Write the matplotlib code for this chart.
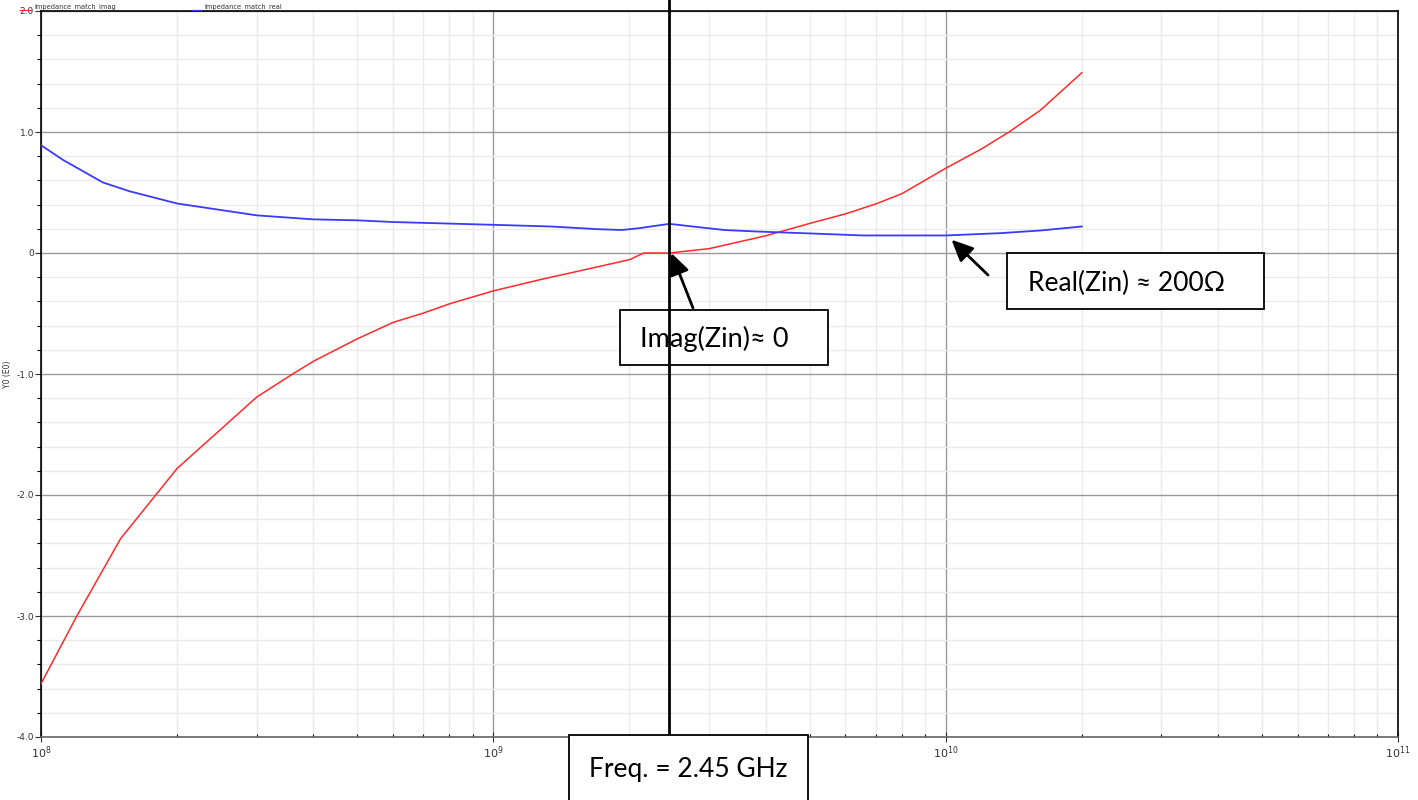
import numpy as np
import matplotlib
matplotlib.use("Agg")
import matplotlib.pyplot as plt
from matplotlib.patches import Rectangle
from matplotlib.lines import Line2D
from matplotlib.ticker import FixedLocator, LogLocator, NullFormatter

# imaginary part of Zin (red)
freq_imag = [1e8, 1.2e8, 1.5e8, 2e8, 3e8, 3.6e8, 4e8, 5e8, 6e8, 7e8, 8e8, 1e9,
             1.29e9, 1.5e9, 2e9, 2.15e9, 2.45e9, 3e9, 4e9, 5e9, 6e9, 7e9, 8e9,
             1e10, 1.2e10, 1.38e10, 1.62e10, 2e10]
imag_zin = [-3.56, -3.0, -2.36, -1.78, -1.19, -1.0, -0.895, -0.71, -0.574, -0.497,
            -0.42, -0.313, -0.214, -0.16, -0.055, 0.0, 0.0, 0.036, 0.142, 0.244,
            0.323, 0.405, 0.49, 0.70, 0.86, 1.0, 1.18, 1.49]

# real part of Zin (blue)
freq_real = [1e8, 1.12e8, 1.37e8, 1.57e8, 2e8, 3e8, 4e8, 5e8, 6e8, 8e8, 1e9,
             1.34e9, 1.7e9, 1.92e9, 2.1e9, 2.45e9, 2.76e9, 3.24e9, 3.8e9, 5.25e9,
             6.56e9, 1e10, 1.32e10, 1.62e10, 2e10]
real_zin = [0.891, 0.768, 0.583, 0.51, 0.409, 0.311, 0.278, 0.27, 0.256, 0.243,
            0.233, 0.219, 0.197, 0.19, 0.205, 0.241, 0.219, 0.19, 0.178, 0.159,
            0.145, 0.145, 0.164, 0.186, 0.219]

f_marker = 2.45e9
y_ticks = [-4.0, -3.0, -2.0, -1.0, 0.0, 1.0, 2.0]
y_ticklabels = ["-4.0", "-3.0", "-2.0", "-1.0", "0", "1.0", "2.0"]

W, H = 1418, 800
fig = plt.figure(figsize=(W / 100, H / 100), dpi=100)
ax = fig.add_axes([41 / W, 1 - 737 / H, (1398 - 41) / W, (737 - 11) / H])


def fx(x):
    return x / W


def fy(y):
    return 1 - y / H


ax.set_xscale("log")
ax.set_xlim(1e8, 1e11)
ax.set_ylim(-4, 2)

ax.yaxis.set_major_locator(FixedLocator(y_ticks))
ax.set_yticklabels(y_ticklabels)
ax.yaxis.set_minor_locator(FixedLocator(np.arange(-4, 2.01, 0.2)))
ax.xaxis.set_minor_locator(LogLocator(base=10, subs=np.arange(2, 10)))
ax.xaxis.set_minor_formatter(NullFormatter())

ax.grid(which="minor", color="#ebebeb", lw=1.0, zorder=0)
ax.grid(which="major", color="#9a9a9a", lw=1.0, zorder=0)
ax.set_axisbelow(True)

for s in ["left", "top", "right"]:
    ax.spines[s].set_color("black")
    ax.spines[s].set_linewidth(1.2)
ax.spines["bottom"].set_color("#666666")
ax.spines["bottom"].set_linewidth(1.2)

ax.tick_params(axis="y", which="major", direction="out", length=4, width=0.8,
               labelsize=6.5, pad=1, colors="#333333")
ax.tick_params(axis="y", which="minor", direction="out", length=3, width=0.8)
ax.tick_params(axis="x", which="major", direction="inout", length=7, width=0.8,
               labelsize=8, pad=2, colors="#333333")
ax.tick_params(axis="x", which="minor", direction="in", length=2, width=0.8)
ax.set_ylabel("Y0 (E0)", fontsize=5.5, labelpad=3, color="#333333")

ax.plot(freq_imag, imag_zin, color="#ff2a2a", lw=1.1, zorder=3)
ax.plot(freq_real, real_zin, color="#3a3aff", lw=1.3, zorder=3)

# legend strip at the top
for x0, x1, col, label in [(20, 31, "#ff2a2a", "Impedance_match_imag"),
                           (192, 201, "#3a3aff", "Impedance_match_real")]:
    ax.add_line(Line2D([fx(x0), fx(x1)], [fy(10), fy(10)], color=col, lw=0.9,
                       transform=fig.transFigure, clip_on=False, zorder=6))
    fig.text(fx(x1 + 3), fy(7), label, fontsize=4.8, color="#333333",
             va="center", ha="left")

# Imag box (drawn beneath the marker line)
ax.add_patch(Rectangle((fx(620), fy(365)), (828 - 620) / W, (365 - 310) / H,
                       transform=fig.transFigure, facecolor="white",
                       edgecolor="black", lw=1.3, clip_on=False, zorder=4))
ax.text(fx(640), fy(339), "Imag(Zin)\u2248 0", transform=fig.transFigure,
        fontsize=19.5, family="Lato", va="center", ha="left", zorder=4.5)

# marker line at 2.45 GHz
ax.add_line(Line2D([f_marker, f_marker], [-4.3, 2.1], color="black", lw=2,
                   clip_on=False, zorder=5))

# Real box
ax.add_patch(Rectangle((fx(1007), fy(309)), (1264 - 1007) / W, (309 - 253) / H,
                       transform=fig.transFigure, facecolor="white",
                       edgecolor="black", lw=1.3, clip_on=False, zorder=6))
ax.text(fx(1028), fy(283), "Real(Zin) \u2248 200\u03a9", transform=fig.transFigure,
        fontsize=19, family="Lato", va="center", ha="left", zorder=7)

# Freq box (on top of marker line)
ax.add_patch(Rectangle((fx(569), fy(805)), (808 - 569) / W, (805 - 735) / H,
                       transform=fig.transFigure, facecolor="white",
                       edgecolor="black", lw=1.3, clip_on=False, zorder=6))
ax.text(fx(589), fy(770), "Freq. = 2.45 GHz", transform=fig.transFigure,
        fontsize=19, family="Lato", va="center", ha="left", zorder=7)

# arrows
arrow = dict(arrowstyle="-|>,head_length=1.3,head_width=0.6", color="black", lw=2,
             shrinkA=0, shrinkB=0)
ax.annotate("", xy=(f_marker * 1.01, 0.0), xycoords="data",
            xytext=(fx(693), fy(308)), textcoords="figure fraction",
            arrowprops=arrow, zorder=8)
ax.annotate("", xy=(1.03e10, 0.11), xycoords="data",
            xytext=(fx(988), fy(275)), textcoords="figure fraction",
            arrowprops=arrow, zorder=8)

fig.savefig("out.png", dpi=100)
